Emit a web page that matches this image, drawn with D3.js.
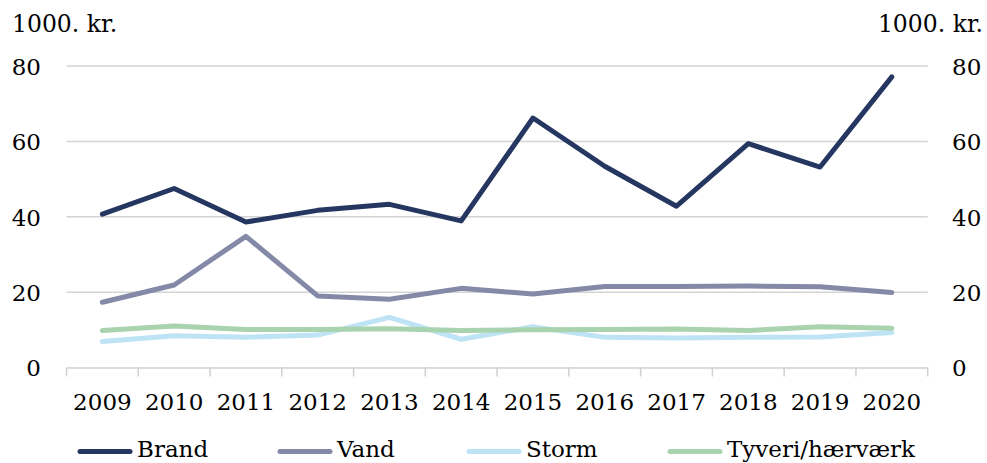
<!DOCTYPE html>
<html><head><meta charset="utf-8">
<script src="https://cdn.jsdelivr.net/npm/d3@7"></script>
<style>body{margin:0;background:#fff}svg{display:block}text{font-family:"DejaVu Serif",serif;fill:#000}</style>
</head><body>
<svg id="c" width="987" height="463"></svg>
<script>
const years = ["2009","2010","2011","2012","2013","2014","2015","2016","2017","2018","2019","2020"];
const brand  = [40.7,47.5,38.6,41.7,43.3,38.9,66.2,53.4,42.8,59.4,53.2,77.1];
const vand   = [17.3,21.9,34.8,19.0,18.1,21.0,19.5,21.5,21.5,21.6,21.4,19.9];
const storm  = [6.9,8.4,8.0,8.6,13.3,7.5,10.8,8.0,7.8,8.0,8.1,9.3];
const tyveri = [9.8,11.0,10.1,10.1,10.3,9.8,10.0,10.1,10.2,9.8,10.8,10.4];
const seriesNames = ["Brand","Vand","Storm","Tyveri/hærværk"];
const yTicks = [0,20,40,60,80];
const unitLabel = "1000. kr.";
const colors = ["#253660","#8589a8","#bde3f5","#a9d3ae"];

const svg = d3.select("#c");
const x = d3.scaleBand().domain(years).range([66.5,927.7]);
const y = d3.scaleLinear().domain([0,80]).range([367.5,66]);

// gridlines
svg.append("g").selectAll("line").data(yTicks.filter(d=>d>0)).join("line")
  .attr("x1",66.5).attr("x2",927.7).attr("y1",d=>y(d)).attr("y2",d=>y(d))
  .attr("stroke","#d4d4d4").attr("stroke-width",1.5);

// x axis
const xa = svg.append("g").attr("transform",`translate(0,${y(0)})`)
  .call(d3.axisBottom(x).tickSize(0).tickPadding(0));
xa.select(".domain").attr("stroke","#d0d0d0").attr("stroke-width",1.5);
xa.selectAll(".tick text").attr("y",42).attr("dy",0).style("font-size","23px").style("font-family","DejaVu Serif").attr("fill","#000");
// boundary ticks
const bounds = years.map(d=>x(d)).concat([x.range()[1]]);
svg.append("g").selectAll("line").data(bounds).join("line")
  .attr("x1",d=>d).attr("x2",d=>d).attr("y1",y(0)).attr("y2",y(0)+9)
  .attr("stroke","#d0d0d0").attr("stroke-width",1.5);

// y axes
const yl = svg.append("g").attr("transform","translate(41,0)")
  .call(d3.axisLeft(y).tickValues(yTicks).tickSize(0).tickPadding(0));
yl.select(".domain").remove();
yl.selectAll(".tick text").attr("dy","0.36em").style("font-size","23px").style("font-family","DejaVu Serif").attr("fill","#000");
const yr = svg.append("g").attr("transform","translate(952,0)")
  .call(d3.axisRight(y).tickValues(yTicks).tickSize(0).tickPadding(0));
yr.select(".domain").remove();
yr.selectAll(".tick text").attr("dy","0.36em").style("font-size","23px").style("font-family","DejaVu Serif").attr("fill","#000");

svg.append("text").attr("x",12).attr("y",32).style("font-size","23.5px").text(unitLabel);
svg.append("text").attr("x",983).attr("y",32).attr("text-anchor","end").style("font-size","23.5px").text(unitLabel);

// lines
const data = [brand,vand,storm,tyveri];
const line = d3.line().x((d,i)=>x(years[i])+x.bandwidth()/2).y(d=>y(d));
data.forEach((s,i)=>{
  svg.append("path").attr("d",line(s)).attr("fill","none")
    .attr("stroke",colors[i]).attr("stroke-width",5)
    .attr("stroke-linejoin","round").attr("stroke-linecap","round");
});

// legend
const legX = [78,278,467,668];
const lg = svg.append("g");
seriesNames.forEach((n,i)=>{
  lg.append("line").attr("x1",legX[i]+2).attr("x2",legX[i]+52).attr("y1",451.5).attr("y2",451.5)
    .attr("stroke",colors[i]).attr("stroke-width",5).attr("stroke-linecap","round");
  lg.append("text").attr("x",legX[i]+59).attr("y",457).style("font-size","23px").text(n);
});
</script>
</body></html>
